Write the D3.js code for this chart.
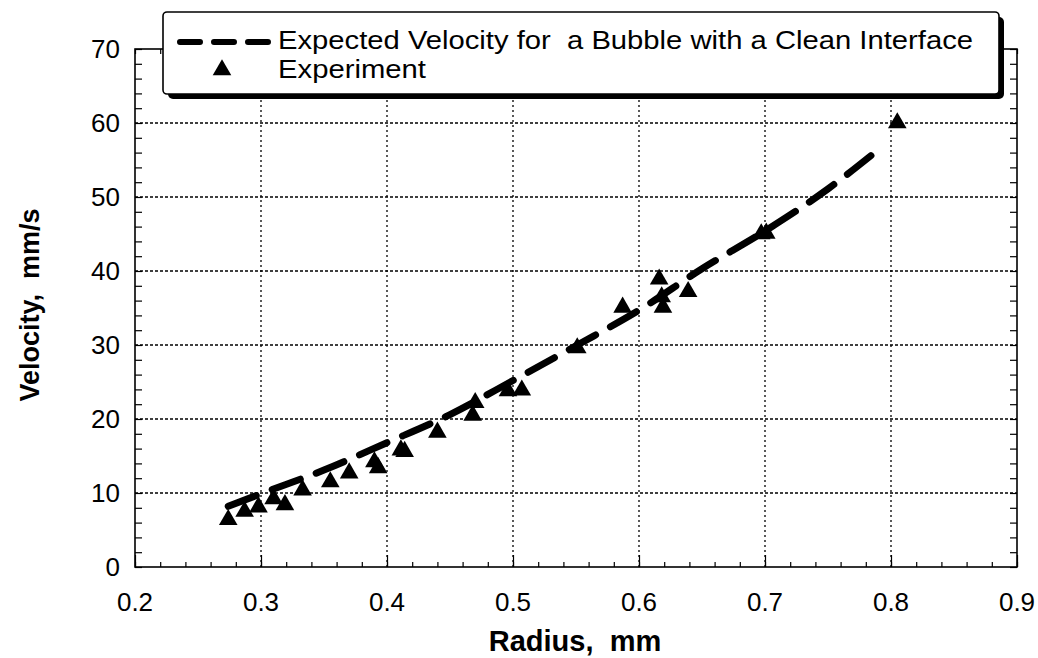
<!DOCTYPE html>
<html><head><meta charset="utf-8">
<script src="https://cdn.jsdelivr.net/npm/d3@7"></script>
<style>body{margin:0;background:#fff}svg{font-family:"Liberation Sans",Arial,sans-serif}</style>
</head><body>
<script>
const expRadius = [0.274,0.287,0.298,0.310,0.319,0.333,0.355,0.370,0.390,0.393,0.411,0.414,0.440,0.468,0.470,0.496,0.507,0.551,0.587,0.616,0.618,0.619,0.639,0.697,0.701,0.805];
const expVelocity = [6.4,7.5,8.1,9.2,8.4,10.4,11.5,12.7,14.2,13.4,15.8,15.6,18.2,20.5,22.2,23.8,23.9,29.6,35.1,38.9,36.5,35.1,37.2,45.0,45.1,60.0];
const theoryRadius = [0.274,0.30,0.35,0.40,0.45,0.50,0.55,0.60,0.65,0.70,0.75,0.79];
const theoryVelocity = [8.2,9.9,13.1,16.8,20.6,25.2,29.9,34.7,40.3,45.4,51.1,56.4];
const xTicks = [0.2,0.3,0.4,0.5,0.6,0.7,0.8,0.9];
const yTicks = [0,10,20,30,40,50,60,70];
const legendLabels = ["Expected Velocity for  a Bubble with a Clean Interface","Experiment"];

const W=1038,H=658;
const svg=d3.select("body").append("svg").attr("width",W).attr("height",H);
const x=d3.scaleLinear().domain([0.2,0.9]).range([135,1017]);
const y=d3.scaleLinear().domain([0,70]).range([567,49]);

// gridlines
const g=svg.append("g");
g.selectAll(".vg").data(xTicks.slice(1,-1)).join("line")
 .attr("x1",d=>x(d)).attr("x2",d=>x(d)).attr("y1",y(0)).attr("y2",y(70))
 .attr("stroke","#000").attr("stroke-width",1.3).attr("stroke-dasharray","2,3");
g.selectAll(".hg").data(yTicks.slice(1,-1)).join("line")
 .attr("x1",x(0.2)).attr("x2",x(0.9)).attr("y1",d=>y(d)).attr("y2",d=>y(d))
 .attr("stroke","#000").attr("stroke-width",1.3).attr("stroke-dasharray","3,2");

// axes (inward ticks)
const yMinor=d3.range(0,70.01,2);
const xMinor=d3.range(0.2,0.9001,0.02);
svg.append("g").attr("transform",`translate(${x(0.2)},0)`)
 .call(d3.axisRight(y).tickValues(yMinor).tickSize(7).tickFormat(""))
 .call(a=>a.select(".domain").remove());
svg.append("g").attr("transform",`translate(${x(0.9)},0)`)
 .call(d3.axisLeft(y).tickValues(yMinor).tickSize(7).tickFormat(""))
 .call(a=>a.select(".domain").remove());
svg.append("g").attr("transform",`translate(0,${y(0)})`)
 .call(d3.axisTop(x).tickValues(xMinor).tickSize(5).tickFormat(""))
 .call(a=>a.select(".domain").remove());
svg.append("g").attr("transform",`translate(0,${y(0)})`)
 .call(d3.axisTop(x).tickValues(xTicks).tickSize(12).tickFormat(""))
 .call(a=>a.select(".domain").remove());
svg.append("g").attr("transform",`translate(0,${y(70)})`)
 .call(d3.axisBottom(x).tickValues(xMinor).tickSize(5).tickFormat(""))
 .call(a=>a.select(".domain").remove());
svg.selectAll(".tick line").attr("stroke","#000").attr("stroke-width",1.2);

svg.append("rect").attr("x",x(0.2)).attr("y",y(70)).attr("width",x(0.9)-x(0.2)).attr("height",y(0)-y(70))
 .attr("fill","none").attr("stroke","#000").attr("stroke-width",1.6);

// tick labels
svg.selectAll(".xl").data(xTicks).join("text").attr("x",d=>x(d)).attr("y",611)
 .attr("text-anchor","middle").attr("font-size",26).text(d=>d.toFixed(1));
svg.selectAll(".yl").data(yTicks).join("text").attr("x",120).attr("y",d=>y(d)+9)
 .attr("text-anchor","end").attr("font-size",26).text(d=>d);

svg.append("text").attr("x",575).attr("y",651).attr("text-anchor","middle")
 .attr("font-size",29).attr("font-weight","bold").style("white-space","pre").text("Radius,  mm");
svg.append("text").attr("transform","translate(39,305) rotate(-90)").attr("text-anchor","middle")
 .attr("font-size",27).attr("font-weight","bold").style("white-space","pre").text("Velocity,  mm/s");

// theory dashed line
const line=d3.line().x((d,i)=>x(theoryRadius[i])).y((d,i)=>y(theoryVelocity[i])).curve(d3.curveMonotoneX);
svg.append("path").attr("d",line(theoryVelocity)).attr("fill","none").attr("stroke","#000")
 .attr("stroke-width",7).attr("stroke-linecap","round").attr("stroke-dasharray","30,17");

// experiment triangles
const tri=d3.symbol().type(d3.symbolTriangle).size(150);
svg.selectAll(".pt").data(expVelocity).join("path").attr("d",tri)
 .attr("transform",(d,i)=>`translate(${x(expRadius[i])},${y(d)})`).attr("fill","#000");

// legend
const lg=svg.append("g");
lg.append("rect").attr("x",168).attr("y",17).attr("width",836).attr("height",82).attr("rx",5).attr("fill","#000");
lg.append("rect").attr("x",163).attr("y",12).attr("width",836).attr("height",82).attr("rx",4)
 .attr("fill","#fff").attr("stroke","#000").attr("stroke-width",1.6);
lg.append("line").attr("x1",180).attr("x2",268).attr("y1",42).attr("y2",42).attr("stroke","#000")
 .attr("stroke-width",6).attr("stroke-linecap","round").attr("stroke-dasharray","20,14");
lg.append("path").attr("d",tri).attr("transform","translate(222,70)").attr("fill","#000");
const lt=lg.selectAll(".lt").data(legendLabels).join("text").attr("x",278).attr("y",(d,i)=>49+i*29)
 .attr("font-size",26).style("white-space","pre").text(d=>d);
lt.filter((d,i)=>i===0).attr("textLength",695).attr("lengthAdjust","spacingAndGlyphs");
lt.filter((d,i)=>i===1).attr("textLength",148).attr("lengthAdjust","spacingAndGlyphs");
</script>
</body></html>
